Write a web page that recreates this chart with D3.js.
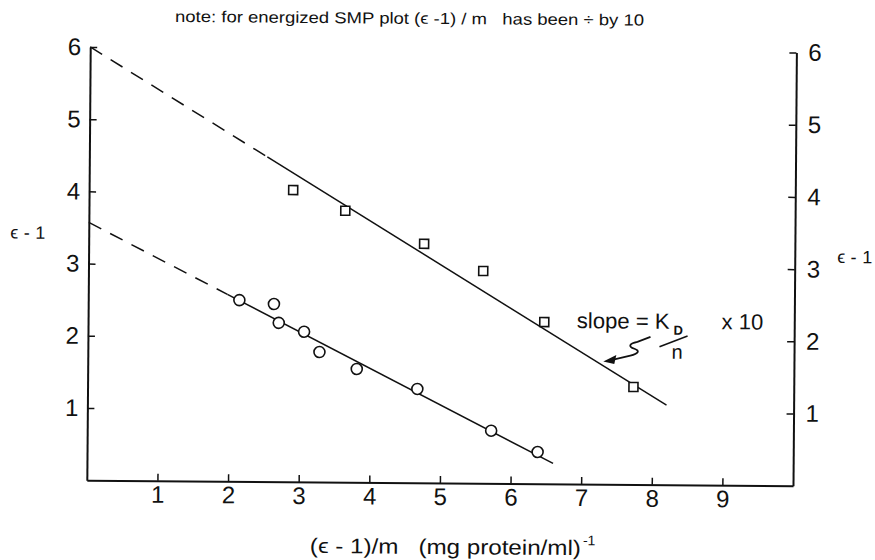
<!DOCTYPE html>
<html>
<head>
<meta charset="utf-8">
<script src="https://cdn.jsdelivr.net/npm/d3@7"></script>
<style>
  body { margin: 0; background: #fff; }
  svg { display: block; }
  text { font-family: "Liberation Sans", Arial, sans-serif; fill: #111; white-space: pre; }
</style>
</head>
<body>
<div id="chart"></div>
<script>
// energized SMP (squares), (e-1)/m already divided by 10
var smpX = [2.89, 3.63, 4.75, 5.59, 6.46, 7.73];
var smpY = [4.04, 3.76, 3.31, 2.94, 2.24, 1.35];

// circles
var ctlX = [2.14, 2.63, 2.70, 3.06, 3.28, 3.81, 4.67, 5.72, 6.38];
var ctlY = [2.51, 2.46, 2.20, 2.08, 1.80, 1.57, 1.30, 0.73, 0.44];

// fitted lines: [intercept, slope, start of solid part, end]
var smpFit = [6.0, -0.597, 2.52, 8.2];
var ctlFit = [3.57, -0.498, 1.97, 6.6];

var xTicks = [1, 2, 3, 4, 5, 6, 7, 8, 9];
var yTicks = [1, 2, 3, 4, 5, 6];

var W = 875, H = 560;
var x = d3.scaleLinear().domain([0, 10]).range([88.4, 794.6]);
var y = d3.scaleLinear().domain([0, 6]).range([483, 49.7]);

var svg = d3.select("#chart").append("svg")
  .attr("width", W).attr("height", H);

// the scan is slightly tilted
var g = svg.append("g").attr("transform", "rotate(0.45,440,280)");

var fmt = d3.format("d");

// axes
var left = g.append("g")
  .attr("transform", "translate(" + x(0) + ",0)")
  .call(d3.axisLeft(y).tickValues(yTicks).tickFormat(fmt).tickSizeInner(-7).tickSizeOuter(0).tickPadding(9));
var right = g.append("g")
  .attr("transform", "translate(" + x(10) + ",0)")
  .call(d3.axisRight(y).tickValues(yTicks).tickFormat(fmt).tickSizeInner(-7).tickSizeOuter(0).tickPadding(12));
var bottom = g.append("g")
  .attr("transform", "translate(0," + y(0) + ")")
  .call(d3.axisBottom(x).tickValues(xTicks).tickFormat(fmt).tickSizeInner(-7).tickSizeOuter(0).tickPadding(5));

[left, right, bottom].forEach(function(a) {
  a.attr("font-size", 24).attr("font-family", "Liberation Sans");
  a.select(".domain").attr("stroke", "#111").attr("stroke-width", 2);
  a.selectAll(".tick line").attr("stroke", "#111").attr("stroke-width", 1.5);
  a.selectAll(".tick text").attr("fill", "#111");
});

// fit lines: dashed extrapolation then solid
function fitLine(f) {
  var f0 = function(v) { return f[0] + f[1] * v; };
  g.append("line")
    .attr("x1", x(0)).attr("y1", y(f0(0)))
    .attr("x2", x(f[2])).attr("y2", y(f0(f[2])))
    .attr("stroke", "#111").attr("stroke-width", 1.5)
    .attr("stroke-dasharray", "14,10");
  g.append("line")
    .attr("x1", x(f[2])).attr("y1", y(f0(f[2])))
    .attr("x2", x(f[3])).attr("y2", y(f0(f[3])))
    .attr("stroke", "#111").attr("stroke-width", 1.5);
}
fitLine(smpFit);
fitLine(ctlFit);

// points
g.selectAll("rect.pt").data(d3.range(smpX.length)).enter().append("rect")
  .attr("class", "pt")
  .attr("x", function(i) { return x(smpX[i]) - 4.5; })
  .attr("y", function(i) { return y(smpY[i]) - 4.5; })
  .attr("width", 9).attr("height", 9)
  .attr("fill", "#fff").attr("stroke", "#111").attr("stroke-width", 1.6);

g.selectAll("circle.pt").data(d3.range(ctlX.length)).enter().append("circle")
  .attr("class", "pt")
  .attr("cx", function(i) { return x(ctlX[i]); })
  .attr("cy", function(i) { return y(ctlY[i]); })
  .attr("r", 5.5)
  .attr("fill", "#fff").attr("stroke", "#111").attr("stroke-width", 1.6);

// texts
g.append("text").attr("x", 173).attr("y", 24).attr("font-size", 16)
  .attr("textLength", 469).attr("lengthAdjust", "spacingAndGlyphs")
  .text("note: for energized SMP plot (\u03f5 -1) / m   has been \u00f7 by 10");

g.append("text").attr("x", 10).attr("y", 242).attr("font-size", 18)
  .attr("textLength", 35).text("\u03f5 - 1");
g.append("text").attr("x", 837).attr("y", 260).attr("font-size", 18)
  .attr("textLength", 35).text("\u03f5 - 1");

g.append("text").attr("x", 312).attr("y", 554).attr("font-size", 21)
  .attr("textLength", 271).attr("lengthAdjust", "spacingAndGlyphs")
  .text("(\u03f5 - 1)/m   (mg protein/ml)");
g.append("text").attr("x", 585).attr("y", 544).attr("font-size", 14).text("-1");

// slope annotation
g.append("text").attr("x", 577).attr("y", 327).attr("font-size", 22)
  .attr("textLength", 93).attr("lengthAdjust", "spacingAndGlyphs").text("slope = K");
g.append("text").attr("x", 674).attr("y", 333).attr("font-size", 13).attr("font-weight", "bold").text("D");
g.append("line").attr("x1", 660).attr("y1", 345).attr("x2", 688).attr("y2", 334)
  .attr("stroke", "#111").attr("stroke-width", 1.5);
g.append("text").attr("x", 672).attr("y", 357).attr("font-size", 20).text("n");
g.append("text").attr("x", 722).attr("y", 327).attr("font-size", 22).text("x 10");

// squiggle arrow pointing at the SMP line
var tip = [x(7.3), y(1.7)];
var arrow = g.append("g").attr("transform", "translate(" + tip[0] + "," + tip[1] + ")");
arrow.append("path")
  .attr("d", "M47,-25 L34,-20 C25,-18 25,-15 31,-13 C37,-11 35,-8 27,-6 L10,-2")
  .attr("fill", "none").attr("stroke", "#111").attr("stroke-width", 1.8);
arrow.append("path")
  .attr("d", "M0,0 L13,-6.5 L11,2.5 Z")
  .attr("fill", "#111");
</script>
</body>
</html>
